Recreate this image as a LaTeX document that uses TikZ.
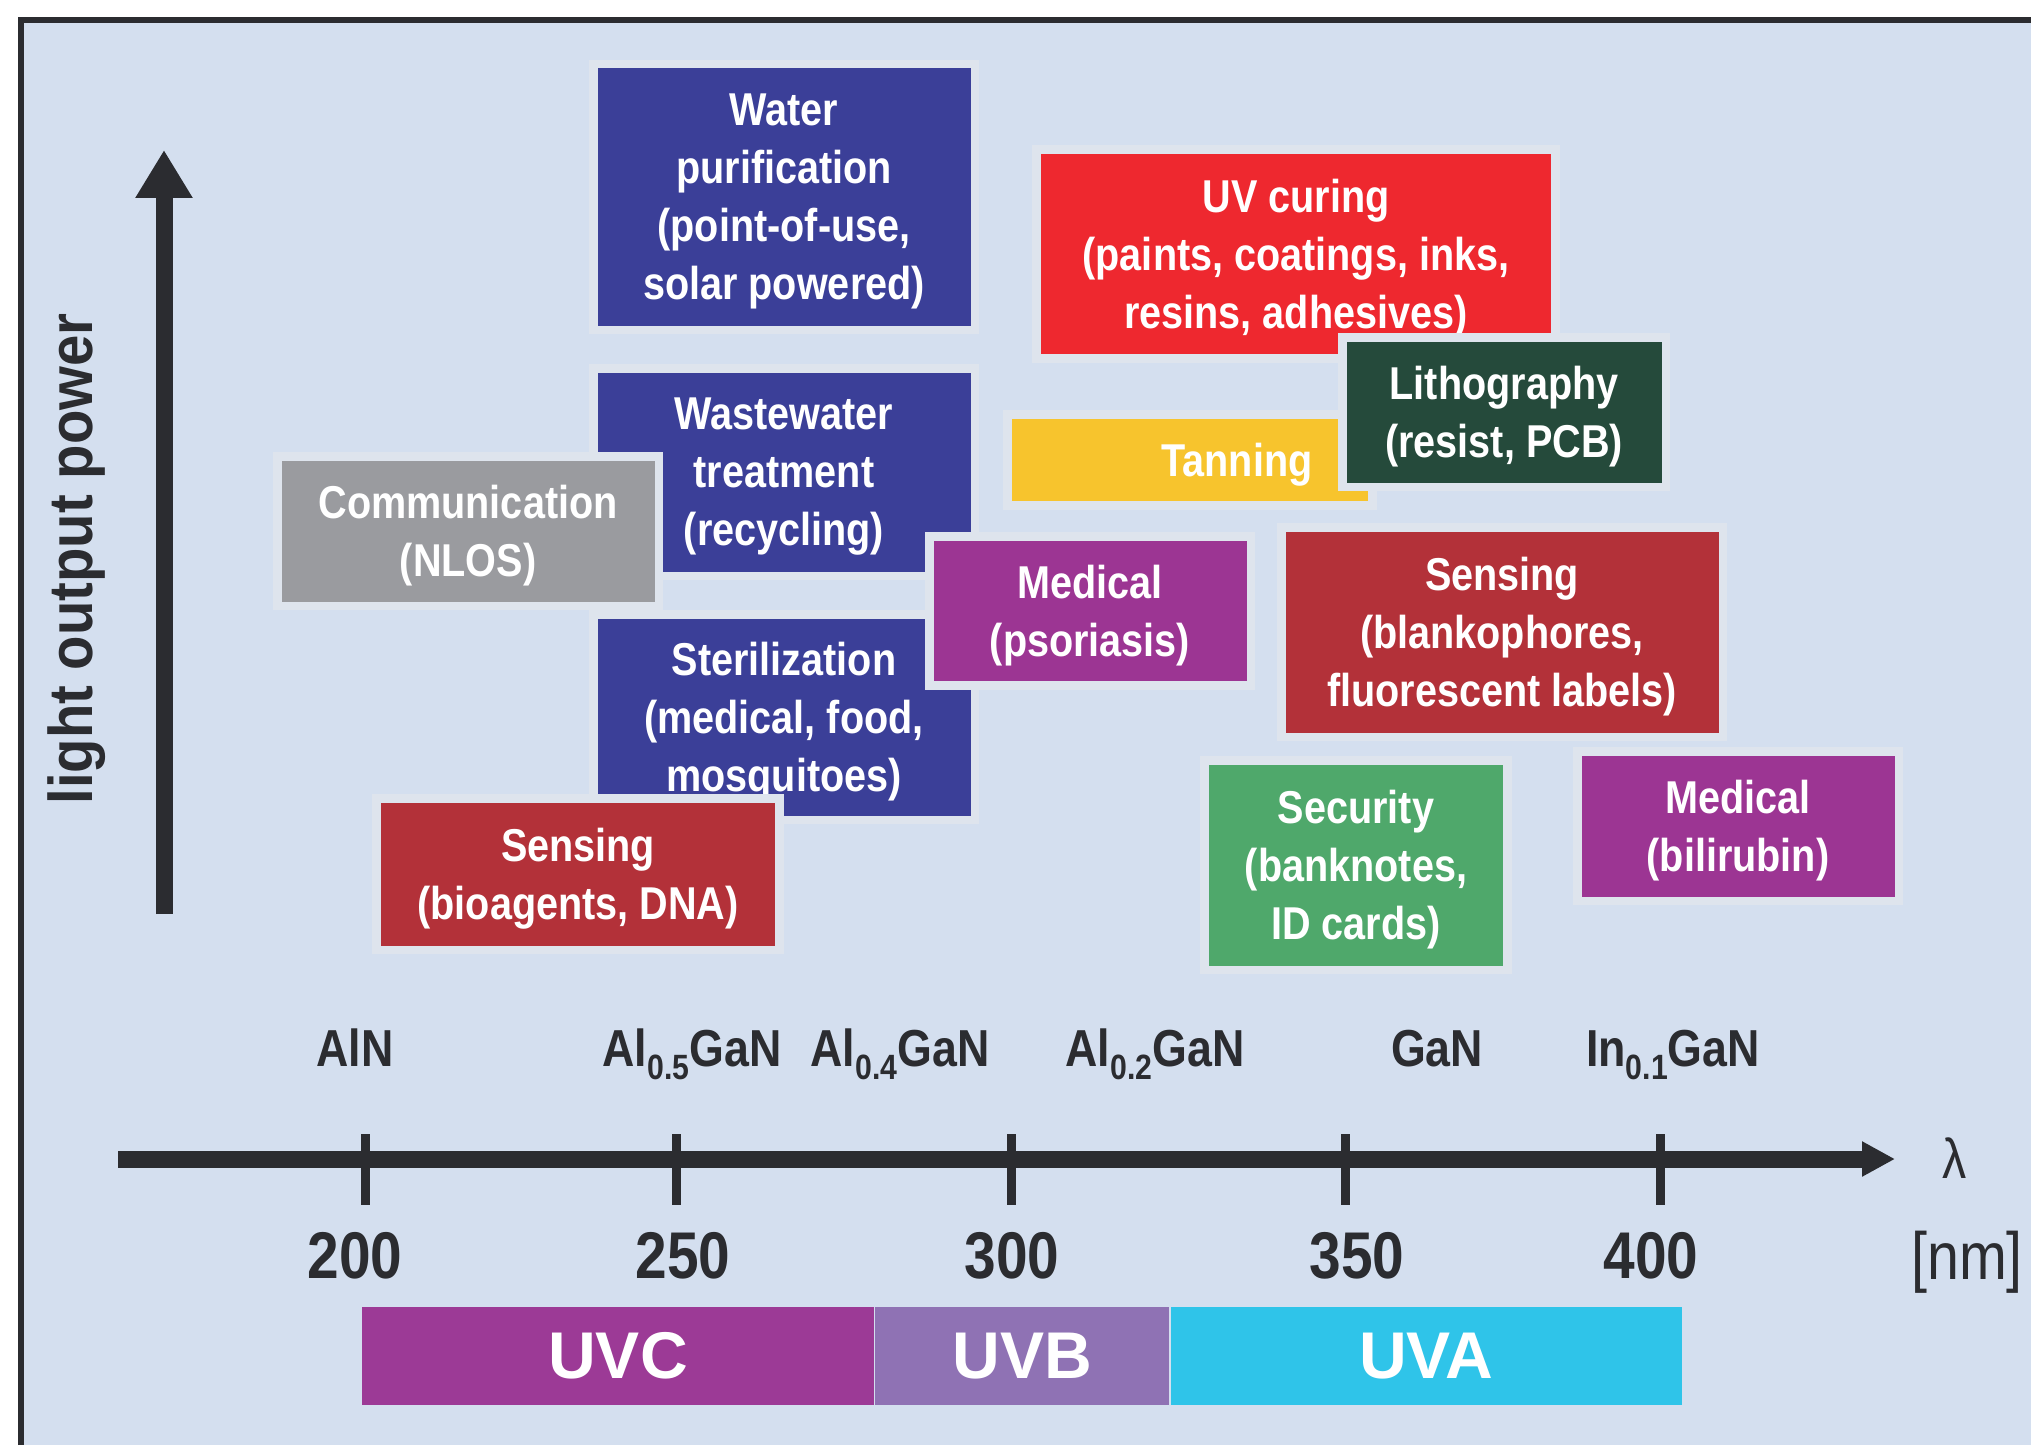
\documentclass[tikz,border=0pt]{standalone}
\usepackage{fontspec}
\setmainfont{Liberation Sans}[FakeStretch=0.86]
\newfontfamily\wideface{Liberation Sans}
\newfontfamily\axisface{Liberation Sans}[FakeStretch=0.91]
\usetikzlibrary{arrows.meta}
\definecolor{panelbg}{RGB}{212,223,239}
\definecolor{halo}{RGB}{222,228,237}
\definecolor{axisgray}{RGB}{43,44,48}
\definecolor{waterblue}{RGB}{59,63,152}
\definecolor{curered}{RGB}{238,40,47}
\definecolor{lithogreen}{RGB}{37,74,59}
\definecolor{tanyellow}{RGB}{247,196,45}
\definecolor{commgray}{RGB}{154,155,159}
\definecolor{medpurple}{RGB}{156,53,147}
\definecolor{sensered}{RGB}{179,49,57}
\definecolor{securegreen}{RGB}{79,168,107}
\definecolor{uvcpurple}{RGB}{156,58,150}
\definecolor{uvbviolet}{RGB}{143,114,180}
\definecolor{uvacyan}{RGB}{47,196,233}
\newcommand{\lowidx}[1]{\raisebox{-3.7pt}{\fontsize{10}{10}\selectfont #1}}

\begin{document}
\begin{tikzpicture}[x=0.1mm, y=-0.1mm,
		boxtext/.style={text=white, align=center, text depth=-3.4pt, font=\fontsize{13.1}{16.5}\selectfont\bfseries},
		appbox/.style={boxtext, fill=#1, inner sep=0pt, preaction={draw=halo, line width=5pt}},
		band/.style={fill=#1, text=white, inner sep=0pt, minimum height=9.8mm, font=\wideface\bfseries\fontsize{18.8}{20}\selectfont},
		axis/.style={draw=axisgray, line width=1.7mm},
		tickmark/.style={draw=axisgray, line width=0.9mm},
		material/.style={text=axisgray, anchor=base, font=\bfseries\fontsize{14.8}{16}\selectfont},
		wavelength/.style={text=axisgray, font=\bfseries\fontsize{18.8}{20}\selectfont}]
		\useasboundingbox (0,0) rectangle (2031,1445);
		%Frame
		\fill[white] (0,0) rectangle (2031,1445);
		\fill[panelbg] (21,20) rectangle (2031,1445);
		\draw[axisgray, line width=0.6mm] (21,1445) |- (2031,20);
		%Axis
		\coordinate (yfoot) at (164,914);
		\coordinate (ytip) at (164,150);
		\coordinate (xfoot) at (118,1159);
		\coordinate (xtip) at (1895,1159);
		\draw[axis, -{Triangle[length=4.8mm, width=5.4mm]}] (yfoot) -- (ytip);
		\draw[axis, -{Triangle[length=3.3mm, width=3.3mm]}] (xfoot) -- (xtip);
		\node[rotate=90, text=axisgray, font=\axisface\bfseries\fontsize{17.6}{20}\selectfont] (ylabel) at (77,559) {light output power};
		\node[text=axisgray, font=\fontsize{16}{18}\selectfont] (lambda) at (1955,1158) {λ};
		\node[text=axisgray, font=\fontsize{19}{21}\selectfont] (unit) at (1967,1262) {[nm]};
		%Ticks
		\foreach \x/\lx/\n in {365/355/200, 676/683/250, 1011/1012/300, 1345/1357/350, 1660/1651/400}{
			\draw[tickmark] (\x,1134) -- (\x,1205);
			\node[wavelength] (n\n) at (\lx,1256) {\n};
		}
		%Materials
		\foreach \lx/\m/\txt in {355/aln/AlN, 692/alhalf/Al\lowidx{0.5}GaN, 900/alfour/Al\lowidx{0.4}GaN, 1155/altwo/Al\lowidx{0.2}GaN, 1437/gan/GaN, 1673/ingan/In\lowidx{0.1}GaN}{
			\node[material] (\m) at (\lx,1066) {\txt};
		}
		%Bands
		\node[band=uvcpurple, minimum width=51.2mm] (uvc) at (618,1356) {UVC};
		\node[band=uvbviolet, minimum width=29.4mm, anchor=west] (uvb) at (uvc.east) {UVB};
		\node[band=uvacyan, minimum width=51.1mm, anchor=west] (uva) at (uvb.east) {UVA};
		%Applications
		\node[appbox=waterblue, minimum width=37.3mm, minimum height=25.7mm] (water) at (784,197) {Water\\purification\\(point-of-use,\\solar powered)};
		\node[appbox=curered, minimum width=51mm, minimum height=20mm] (curing) at (1296,254) {UV curing\\(paints, coatings, inks,\\resins, adhesives)};
		\node[appbox=tanyellow, minimum width=35.6mm, minimum height=8.2mm] (tanning) at (1190,460) {};
		\node[boxtext] (tantext) at (1237,460) {Tanning};
		\node[appbox=lithogreen, minimum width=31.5mm, minimum height=14.1mm] (litho) at (1504,412) {Lithography\\(resist, PCB)};
		\node[appbox=waterblue, minimum width=37.3mm, minimum height=19.9mm] (waste) at (784,472) {Wastewater\\treatment\\(recycling)};
		\node[appbox=commgray, minimum width=37.3mm, minimum height=14.1mm] (comm) at (468,531) {Communication\\(NLOS)};
		\node[appbox=waterblue, minimum width=37.3mm, minimum height=19.7mm] (steril) at (784,717) {Sterilization\\(medical, food,\\mosquitoes)};
		\node[appbox=medpurple, minimum width=31.3mm, minimum height=14mm] (psoriasis) at (1090,611) {Medical\\(psoriasis)};
		\node[appbox=sensered, minimum width=39.4mm, minimum height=14.3mm] (bioagents) at (578,874) {Sensing\\(bioagents, DNA)};
		\node[appbox=sensered, minimum width=43.3mm, minimum height=20.1mm] (blanko) at (1502,632) {Sensing\\(blankophores,\\fluorescent labels)};
		\node[appbox=securegreen, minimum width=29.4mm, minimum height=20.1mm] (security) at (1356,865) {Security\\(banknotes,\\ID cards)};
		\node[appbox=medpurple, minimum width=31.3mm, minimum height=14.1mm] (bilirubin) at (1738,826) {Medical\\(bilirubin)};
\end{tikzpicture}
\end{document}
